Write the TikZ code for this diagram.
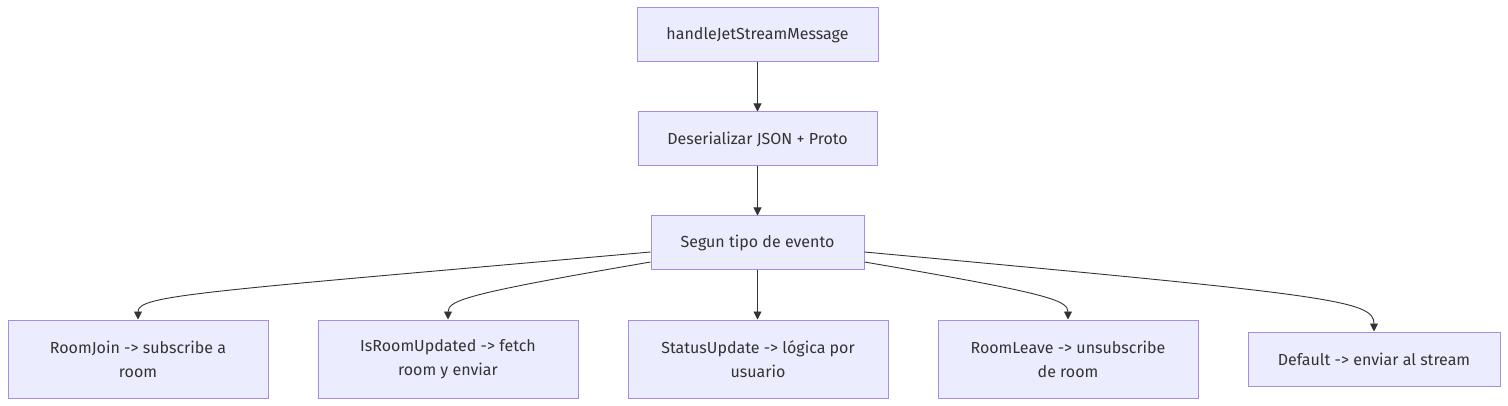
\documentclass[tikz,border=0pt]{standalone}
\usepackage{fontspec}
\setmainfont{Fira Sans}
\usetikzlibrary{arrows.meta}
\definecolor{boxfill}{HTML}{ECECFF}
\definecolor{boxline}{HTML}{9370DB}
\definecolor{ink}{HTML}{333333}
\begin{document}
\begin{tikzpicture}[x=1pt, y=-1pt,
    box/.style={draw=boxline!80, fill=boxfill, line width=1pt, text=ink, inner sep=0pt,
      minimum height=54pt, align=center, font=\fontsize{16}{24}\selectfont},
    tall/.style={box, minimum width=260pt, minimum height=78pt},
    link/.style={draw=ink, line width=0.9pt, -{Triangle[length=8pt, width=8pt]}}]
    \useasboundingbox (0, 0) rectangle (1508, 406);
    \node [box, minimum width=241pt] (handle) at (757.5, 35) {handleJetStreamMessage};
    \node [box, minimum width=239pt] (deser) at (757.5, 139) {Deserializar JSON + Proto};
    \node [box, minimum width=213pt] (segun) at (757.5, 243) {Segun tipo de evento};
    \node [tall] (join) at (138, 359) {RoomJoin -> subscribe a\\room};
    \node [tall] (updated) at (448, 359) {IsRoomUpdated -> fetch\\room y enviar};
    \node [tall] (status) at (758, 359) {StatusUpdate -> lógica por\\usuario};
    \node [tall] (leave) at (1068, 359) {RoomLeave -> unsubscribe\\de room};
    \node [box, minimum width=252pt] (default) at (1374, 359) {Default -> enviar al stream};
    \draw [link] (handle) -- (deser);
    \draw [link] (deser) -- (segun);
    \draw [link] ([yshift=-9pt]segun.west) .. controls (200, 292) and (138, 295) .. (join.north);
    \draw [link] ([yshift=-19pt]segun.west) .. controls (470, 293) and (448, 300) .. (updated.north);
    \draw [link] (segun.south) -- (status.north -| segun.south);
    \draw [link] ([yshift=-19pt]segun.east) .. controls (1046, 293) and (1068, 300) .. (leave.north);
    \draw [link] ([yshift=-9pt]segun.east) .. controls (1330, 295) and (1374, 300) .. (default.north);
  \end{tikzpicture}
\end{document}
